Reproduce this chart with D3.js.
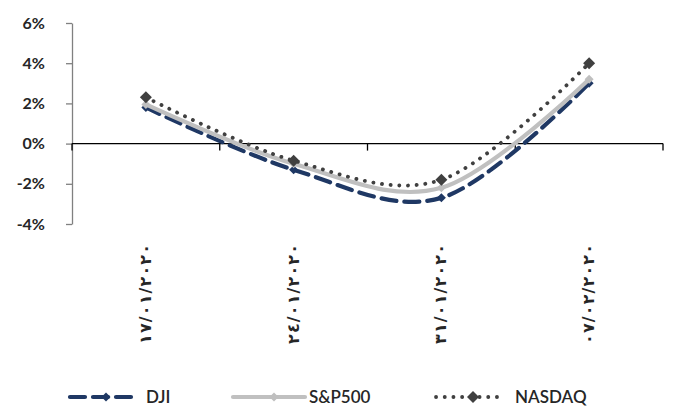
<!DOCTYPE html>
<html>
<head>
<meta charset="utf-8">
<script src="https://cdn.jsdelivr.net/npm/d3@7"></script>
<style>
  html, body { margin: 0; padding: 0; background: #fff; }
  svg { display: block; }
</style>
</head>
<body>
<svg id="chart" width="678" height="418"></svg>
<script>
// Weekly index returns
const dates = ["١٧/٠١/٢٠٢٠", "٢٤/٠١/٢٠٢٠", "٣١/٠١/٢٠٢٠", "٠٧/٠٢/٢٠٢٠"];
const dji    = [0.018, -0.013, -0.027, 0.030];
const sp500  = [0.0195, -0.010, -0.022, 0.032];
const nasdaq = [0.023, -0.0085, -0.018, 0.040];
const yTicks = [-0.04, -0.02, 0, 0.02, 0.04, 0.06];
const seriesNames = ["DJI", "S&P500", "NASDAQ"];

const series = [
  { name: seriesNames[0], values: dji,    color: "#1F3864", width: 4.2, dash: "15 8",  cap: "round", marker: 4.5, markerColor: "#1F3864" },
  { name: seriesNames[1], values: sp500,  color: "#C0C0C0", width: 4.2, dash: null,    cap: "round", marker: 4.5, markerColor: "#BFBFBF" },
  { name: seriesNames[2], values: nasdaq, color: "#404040", width: 3.8, dash: "0.1 8.6", cap: "round", marker: 6,   markerColor: "#404040" }
];

const svg = d3.select("#chart");
const plotLeft = 72, plotRight = 663, plotTop = 23, plotBottom = 224;

const x = d3.scaleBand().domain(dates).range([plotLeft, plotRight]).padding(0);
const y = d3.scaleLinear().domain([-0.04, 0.06]).range([plotBottom, plotTop]);

const pct = d => `${Math.round(d * 100)}%`;

// Value axis
const yAxis = svg.append("g")
  .attr("transform", `translate(${plotLeft},0)`)
  .call(d3.axisLeft(y).tickValues(yTicks).tickFormat(pct).tickSize(6).tickSizeOuter(0));
yAxis.select(".domain").attr("stroke", "#808080").attr("stroke-width", 1.3);
yAxis.selectAll(".tick line").attr("stroke", "#808080").attr("stroke-width", 1.3);
yAxis.selectAll(".tick text")
  .attr("x", -27)
  .attr("fill", "#262626")
  .style("font-family", "Lato, 'Open Sans', sans-serif")
  .style("font-weight", "bold")
  .style("font-size", "16px");

// Category axis along zero
const xAxis = svg.append("g")
  .attr("transform", `translate(0,${y(0)})`);
xAxis.append("line")
  .attr("x1", plotLeft).attr("x2", plotRight)
  .attr("y1", 0).attr("y2", 0)
  .attr("stroke", "#000").attr("stroke-width", 1.3);
const boundaries = dates.map(d => x(d)).concat([plotRight]);
xAxis.selectAll("line.tk").data(boundaries).enter().append("line")
  .attr("class", "tk")
  .attr("x1", d => d).attr("x2", d => d)
  .attr("y1", 0).attr("y2", 7)
  .attr("stroke", "#000").attr("stroke-width", 1.3);

// Date labels, rotated, placed below the plot area
svg.append("g").selectAll("text").data(dates).enter().append("text")
  .attr("transform", d => `translate(${x(d) + x.bandwidth() / 2 + 5},${plotBottom + 20}) rotate(-90)`)
  .attr("text-anchor", "end")
  .attr("direction", "ltr")
  .attr("textLength", 100)
  .attr("lengthAdjust", "spacing")
  .style("unicode-bidi", "plaintext")
  .attr("fill", "#262626")
  .style("font-family", "'DejaVu Sans', sans-serif")
  .style("font-weight", "bold")
  .style("font-size", "16px")
  .text(d => d);

// Smoothed lines
const cx = (d, i) => x(dates[i]) + x.bandwidth() / 2;
const line = d3.line().x(cx).y(d => y(d)).curve(d3.curveCardinal.tension(0));
const diamond = r => `M0,${-r}L${r},0L0,${r}L${-r},0Z`;

series.forEach(s => {
  const g = svg.append("g");
  g.append("path")
    .attr("d", line(s.values))
    .attr("fill", "none")
    .attr("stroke", s.color)
    .attr("stroke-width", s.width)
    .attr("stroke-linecap", s.cap)
    .attr("stroke-dasharray", s.dash);
  g.selectAll("path.m").data(s.values).enter().append("path")
    .attr("class", "m")
    .attr("d", diamond(s.marker))
    .attr("transform", (d, i) => `translate(${cx(d, i)},${y(d)})`)
    .attr("fill", s.markerColor);
});

// Legend
const legendY = 397;
const legendItems = [
  { x0: 70,  x1: 132, tx: 146 },
  { x0: 233, x1: 305, tx: 309 },
  { x0: 436, x1: 500, tx: 515 }
];
series.forEach((s, i) => {
  const L = legendItems[i];
  const g = svg.append("g");
  g.append("line")
    .attr("x1", L.x0).attr("x2", L.x1)
    .attr("y1", legendY).attr("y2", legendY)
    .attr("stroke", s.color)
    .attr("stroke-width", s.width)
    .attr("stroke-linecap", s.cap)
    .attr("stroke-dasharray", s.dash);
  g.append("path")
    .attr("d", diamond(s.marker))
    .attr("transform", `translate(${(L.x0 + L.x1) / 2 + 5},${legendY})`)
    .attr("fill", s.markerColor);
  g.append("text")
    .attr("x", L.tx).attr("y", legendY + 6)
    .attr("fill", "#262626")
    .style("font-family", "Lato, 'Open Sans', sans-serif")
    .style("font-weight", "600")
    .style("font-size", "17px")
    .text(s.name);
});
</script>
</body>
</html>
